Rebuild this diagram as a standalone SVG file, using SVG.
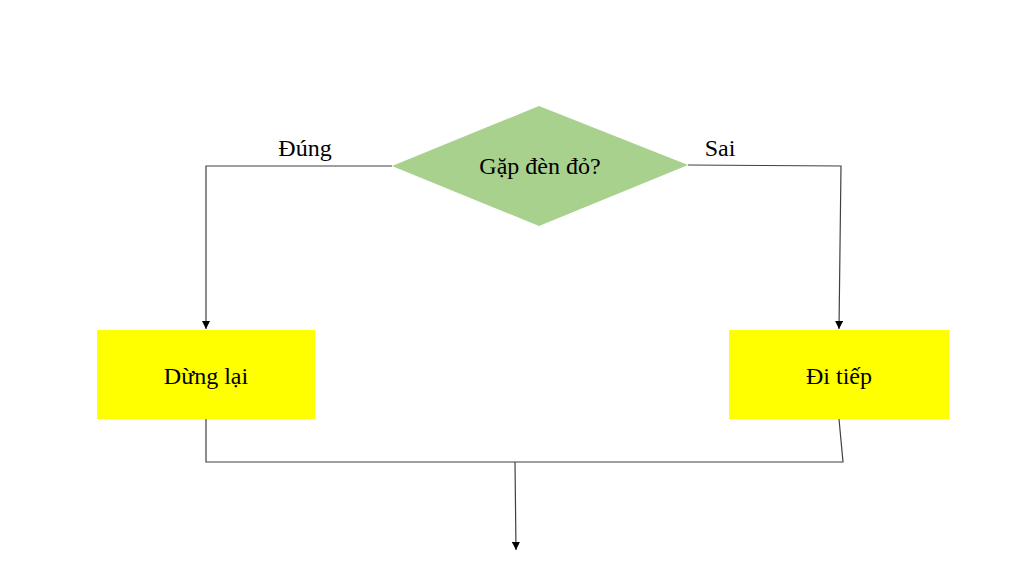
<svg xmlns="http://www.w3.org/2000/svg" width="1024" height="575" viewBox="0 0 1024 575">
<style>
text{font-family:"Liberation Serif","Times New Roman",serif;font-size:24px;fill:#000;text-anchor:middle}
.ln{fill:none;stroke:#404040;stroke-width:1.2}
</style>
<defs>
<marker id="ah" viewBox="0 0 10 10" refX="10" refY="5" markerWidth="8" markerHeight="8" markerUnits="userSpaceOnUse" orient="auto">
<path d="M0,0 L10,5 L0,10 z" fill="#000"/>
</marker>
</defs>
<rect width="1024" height="575" fill="#fff"/>
<g id="connectors">
<polyline class="ln" points="392,166 206,166 206,329" marker-end="url(#ah)"/>
<polyline class="ln" points="688,165 841,166 839,329" marker-end="url(#ah)"/>
<polyline class="ln" points="206,419 206,462 843,462 839,419"/>
<line class="ln" x1="515" y1="462" x2="516" y2="550" marker-end="url(#ah)"/>
<text x="305" y="156">Đúng</text>
<text x="720" y="156">Sai</text>
</g>
<g id="decision">
<polygon points="392,166 539,106 688,165 539,226" fill="#a9d18e"/>
<text x="540" y="174">Gặp đèn đỏ?</text>
</g>
<g id="stop">
<rect x="97" y="330" width="218" height="89" fill="#ffff00"/>
<text x="206" y="384">Dừng lại</text>
</g>
<g id="go">
<rect x="729" y="330" width="220" height="89" fill="#ffff00"/>
<text x="839" y="384">Đi tiếp</text>
</g>
</svg>
